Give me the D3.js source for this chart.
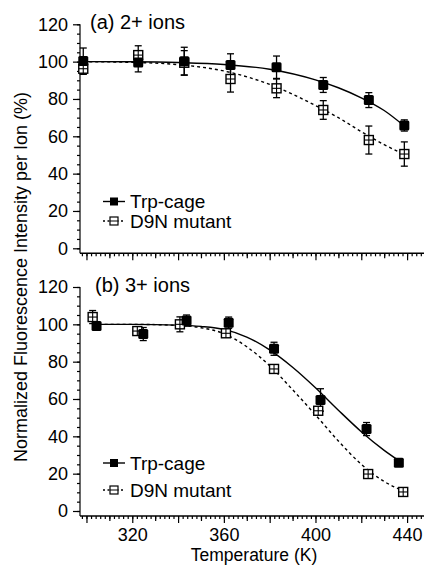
<!DOCTYPE html>
<html>
<head>
<meta charset="utf-8">
<script src="https://cdn.jsdelivr.net/npm/d3@7"></script>
<style>
  body { margin: 0; background: #fff; }
  svg text { font-family: "Liberation Sans", Arial, sans-serif; fill: #000; }
</style>
</head>
<body>
<div id="chart"></div>
<script>
// ---- data ----
var yTicks = [0, 20, 40, 60, 80, 100, 120];
var xLabels = [320, 360, 400, 440];

// panel (a) 2+ ions
var tempsA = [298.6, 322.6, 342.7, 362.9, 383.0, 403.4, 423.3, 438.8];
var trpA = [100.3, 99.5, 100.2, 98.2, 97.0, 87.5, 79.4, 65.8];
var trpErrA = [7, 5, 7.5, 6, 6, 4, 4, 3];
var d9nA = [96.2, 103.5, 99.4, 90.7, 85.7, 74.1, 58.0, 50.5];
var d9nErrA = [3, 5, 6.5, 7, 5, 5, 7.5, 6.5];
var trpFitTA = [298.6, 320, 340, 360, 380, 400, 410, 420, 430, 438.8];
var trpFitA = [100, 99.9, 99.5, 98.5, 95.9, 90.2, 86, 80.6, 73.8, 65.5];
var d9nFitTA = [298.6, 320, 340, 360, 380, 400, 410, 420, 430, 438.8];
var d9nFitA = [100, 99.6, 98.4, 95, 87.8, 76.5, 70, 62.5, 55.5, 50.3];

// panel (b) 3+ ions
var trpTempsB = [304.4, 324.8, 343.7, 362.1, 381.9, 402.2, 422.3, 436.4];
var trpB = [99.1, 94.8, 102.0, 100.9, 86.9, 59.5, 43.9, 25.9];
var trpErrB = [2, 3.5, 3, 3, 3.5, 6, 3.5, 1];
var d9nTempsB = [302.7, 322.2, 340.8, 360.9, 381.9, 401.2, 423.0, 438.3];
var d9nB = [103.9, 96.4, 100.0, 95.2, 76.1, 53.7, 19.8, 10.2];
var d9nErrB = [3.5, 2, 4, 2, 2, 2, 1.5, 1];
var trpFitTB = [304.4, 320, 340, 350, 360, 370, 380, 390, 400, 410, 420, 430, 436.4];
var trpFitB = [100, 100, 99.6, 98.9, 97.3, 93.2, 86.3, 77, 66, 54, 42.5, 32.5, 27];
var d9nFitTB = [302.7, 320, 340, 350, 360, 370, 380, 390, 400, 410, 420, 430, 438.3];
var d9nFitB = [100, 100, 99.4, 98.2, 95, 88, 77.8, 65, 51.5, 37.5, 25, 15.8, 10.8];

var series = ["Trp-cage", "D9N mutant"];

function init() {
    var w = 424, h = 565;
    var svg = d3.select("#chart").append("svg")
        .attr("width", w).attr("height", h);
    svg.append("rect").attr("width", w).attr("height", h).attr("fill", "#fff");

    // shared temperature scale
    var xScale = d3.scaleLinear().domain([297, 448]).range([79.6, 425.4]);

    drawPanel(svg, xScale, 24.3, {
        label: "(a) 2+ ions", labelX: 90,
        trpT: tempsA, trp: trpA, trpErr: trpErrA,
        d9nT: tempsA, d9n: d9nA, d9nErr: d9nErrA,
        trpFitT: trpFitTA, trpFit: trpFitA, d9nFitT: d9nFitTA, d9nFit: d9nFitA,
        legendY: [201.5, 221], showLabels: false
    });
    drawPanel(svg, xScale, 287, {
        label: "(b) 3+ ions", labelX: 95,
        trpT: trpTempsB, trp: trpB, trpErr: trpErrB,
        d9nT: d9nTempsB, d9n: d9nB, d9nErr: d9nErrB,
        trpFitT: trpFitTB, trpFit: trpFitB, d9nFitT: d9nFitTB, d9nFit: d9nFitB,
        legendY: [463, 490], showLabels: true
    });

    // shared y label
    svg.append("text")
       .attr("transform", "translate(21,277) rotate(-90)")
       .attr("text-anchor", "middle")
       .attr("dy", "0.35em")
       .style("font-size", "18px")
       .text("Normalized Fluorescence Intensity per Ion (%)");

    // x label
    svg.append("text")
       .attr("x", 254).attr("y", 561)
       .attr("text-anchor", "middle")
       .style("font-size", "17.5px")
       .text("Temperature (K)");
}

function drawPanel(svg, xScale, yTop, d) {
    var yScale = d3.scaleLinear().domain([0, 120]).range([yTop + 224, yTop]);
    var axisY = yScale(0) + 5;
    var g = svg.append("g");

    // y axis: minor ticks every 5, major every 20
    g.append("g")
     .attr("transform", "translate(80,0)")
     .call(d3.axisLeft(yScale).tickValues(d3.range(0, 121, 5)).tickSize(3).tickFormat(""))
     .call(function(a) { a.select(".domain").remove(); });
    var yAx = g.append("g")
     .attr("transform", "translate(80,0)")
     .call(d3.axisLeft(yScale).tickValues(yTicks).tickSize(7).tickPadding(5));
    yAx.select(".domain").remove();
    yAx.selectAll("text").style("font-size", "18px");
    yAx.selectAll("line").attr("stroke-width", 1.3);
    g.append("line")
     .attr("x1", 80).attr("x2", 80)
     .attr("y1", yScale(120)).attr("y2", axisY)
     .attr("stroke", "#000").attr("stroke-width", 1.4);

    // x axis: minor every 2 K, medium every 10 K, major every 20 K
    var xAx = g.append("g").attr("transform", "translate(0," + axisY + ")");
    xAx.call(d3.axisBottom(xScale).tickValues(d3.range(298, 449, 2)).tickSize(3).tickFormat(""));
    xAx.call(function(a) { a.select(".domain").remove(); });
    g.append("g").attr("transform", "translate(0," + axisY + ")")
     .call(d3.axisBottom(xScale).tickValues(d3.range(310, 449, 20)).tickSize(5).tickFormat(""))
     .call(function(a) { a.select(".domain").remove(); });
    g.append("g").attr("transform", "translate(0," + axisY + ")")
     .call(d3.axisBottom(xScale).tickValues(d3.range(300, 449, 20)).tickSize(7).tickFormat(""))
     .call(function(a) { a.select(".domain").remove(); });
    g.selectAll("line").attr("stroke-width", 1.2);
    g.append("line")
     .attr("x1", 80).attr("x2", 424)
     .attr("y1", axisY).attr("y2", axisY)
     .attr("stroke", "#000").attr("stroke-width", 1.4);

    if (d.showLabels) {
        var lab = g.append("g").attr("transform", "translate(0," + axisY + ")")
            .call(d3.axisBottom(xScale).tickValues(xLabels).tickSize(0).tickPadding(12.5));
        lab.select(".domain").remove();
        lab.selectAll("text").style("font-size", "18px");
    }

    // panel label
    g.append("text")
     .attr("x", d.labelX).attr("y", yTop + 5)
     .style("font-size", "20px")
     .text(d.label);

    // fitted curves
    var line = d3.line()
        .x(function(p) { return xScale(p[0]); })
        .y(function(p) { return yScale(p[1]); })
        .curve(d3.curveMonotoneX);
    g.append("path")
     .datum(d3.zip(d.trpFitT, d.trpFit))
     .attr("d", line)
     .attr("fill", "none").attr("stroke", "#000").attr("stroke-width", 1.4);
    g.append("path")
     .datum(d3.zip(d.d9nFitT, d.d9nFit))
     .attr("d", line)
     .attr("fill", "none").attr("stroke", "#000").attr("stroke-width", 1.4)
     .attr("stroke-dasharray", "3,3");

    // error bars
    function errBars(ts, vs, es) {
        var eb = g.append("g").attr("stroke", "#000").attr("stroke-width", 1.3);
        ts.forEach(function(t, i) {
            var x = xScale(t);
            var y1 = yScale(vs[i] + es[i]), y2 = yScale(vs[i] - es[i]);
            eb.append("line").attr("x1", x).attr("x2", x).attr("y1", y1).attr("y2", y2);
            eb.append("line").attr("x1", x - 3.5).attr("x2", x + 3.5).attr("y1", y1).attr("y2", y1);
            eb.append("line").attr("x1", x - 3.5).attr("x2", x + 3.5).attr("y1", y2).attr("y2", y2);
        });
    }
    errBars(d.d9nT, d.d9n, d.d9nErr);
    errBars(d.trpT, d.trp, d.trpErr);

    // open squares (D9N)
    var open = g.append("g").selectAll("g")
        .data(d3.zip(d.d9nT, d.d9n))
        .join("g")
        .attr("transform", function(p) { return "translate(" + xScale(p[0]) + "," + yScale(p[1]) + ")"; });
    drawOpen(open, 4.5);

    // filled squares (Trp-cage)
    g.append("g").selectAll("rect")
     .data(d3.zip(d.trpT, d.trp))
     .join("rect")
     .attr("x", function(p) { return xScale(p[0]) - 5; })
     .attr("y", function(p) { return yScale(p[1]) - 5; })
     .attr("width", 10).attr("height", 10)
     .attr("rx", 1.5)
     .attr("fill", "#000");

    // legend
    var leg = g.append("g");
    leg.append("line")
       .attr("x1", 103).attr("x2", 125).attr("y1", d.legendY[0]).attr("y2", d.legendY[0])
       .attr("stroke", "#000").attr("stroke-width", 1.4);
    leg.append("rect")
       .attr("x", 110).attr("y", d.legendY[0] - 4).attr("width", 8).attr("height", 8)
       .attr("fill", "#000");
    leg.append("line")
       .attr("x1", 103).attr("x2", 125).attr("y1", d.legendY[1]).attr("y2", d.legendY[1])
       .attr("stroke", "#000").attr("stroke-width", 1.4).attr("stroke-dasharray", "2,2.5");
    var lo = leg.append("g").attr("transform", "translate(114," + d.legendY[1] + ")");
    lo.append("rect").attr("x", -4).attr("y", -4).attr("width", 8).attr("height", 8)
      .attr("fill", "#fff").attr("stroke", "#000").attr("stroke-width", 1.2);
    lo.append("line").attr("x1", -4).attr("x2", 4).attr("y1", 0).attr("y2", 0)
      .attr("stroke", "#000").attr("stroke-width", 1);
    series.forEach(function(s, i) {
        leg.append("text")
           .attr("x", 130).attr("y", d.legendY[i])
           .attr("dy", "0.36em")
           .style("font-size", "19px")
           .text(s);
    });
}

function drawOpen(sel, r) {
    sel.append("rect")
       .attr("x", -r).attr("y", -r).attr("width", 2 * r).attr("height", 2 * r)
       .attr("fill", "#fff").attr("stroke", "#000").attr("stroke-width", 1.4);
    sel.append("line").attr("x1", -r).attr("x2", r).attr("y1", 0).attr("y2", 0)
       .attr("stroke", "#000").attr("stroke-width", 1.1);
    sel.append("line").attr("x1", 0).attr("x2", 0).attr("y1", -r).attr("y2", r)
       .attr("stroke", "#000").attr("stroke-width", 1.1);
}

window.onload = init;
</script>
</body>
</html>
